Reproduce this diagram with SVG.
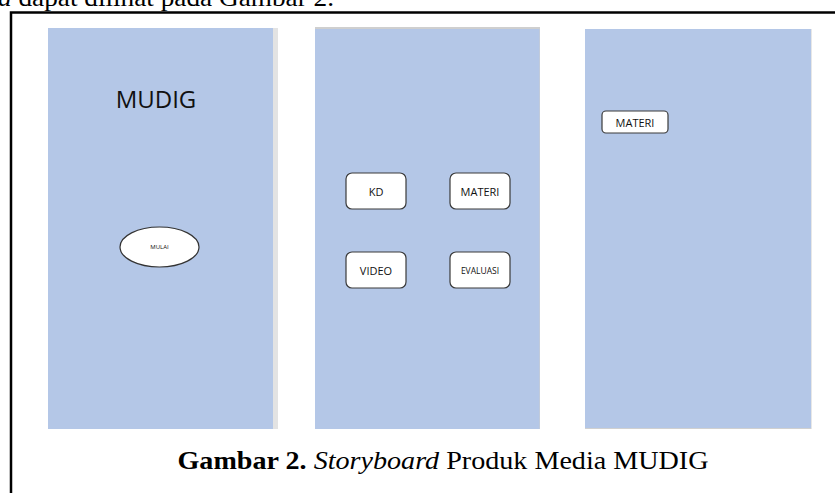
<svg xmlns="http://www.w3.org/2000/svg" width="835" height="493" viewBox="0 0 835 493">
<style>
.panel{fill:#b4c7e7}
.btn{fill:#ffffff;stroke:#3a3a3a;stroke-width:1.2}
.lbl{font-family:"Open Sans","Liberation Sans",sans-serif;fill:#111;text-anchor:middle}
.serif{font-family:"Liberation Serif","Times New Roman",serif;fill:#000}
</style>
<rect width="835" height="493" fill="#ffffff"/>
<text class="serif" x="-2" y="6" font-size="25" textLength="336" lengthAdjust="spacingAndGlyphs"><tspan font-style="italic">a</tspan> dapat dilihat pada Gambar 2.</text>
<path d="M11 493 V12.5 H835" fill="none" stroke="#000" stroke-width="2.5"/>
<g id="screen1">
<rect x="273" y="28" width="5" height="401" fill="#e3e3e3"/>
<rect class="panel" x="48" y="28" width="225" height="401"/>
<text class="lbl" x="156" y="108" font-size="24">MUDIG</text>
<g id="mulai">
<ellipse cx="159.5" cy="247" rx="39.5" ry="20" fill="#fff" stroke="#333" stroke-width="1.2"/>
<text class="lbl" x="159.5" y="249" font-size="6">MULAI</text>
</g>
</g>
<g id="screen2">
<rect x="315" y="27" width="225" height="402" fill="#cfcfcf"/>
<rect class="panel" x="315" y="29" width="224.5" height="400"/>
<g id="kd"><rect class="btn" x="346" y="173" width="60" height="36" rx="6"/><text class="lbl" x="376" y="196" font-size="11">KD</text></g>
<g id="materi"><rect class="btn" x="450" y="173" width="60" height="36" rx="6"/><text class="lbl" x="480" y="196" font-size="11">MATERI</text></g>
<g id="video"><rect class="btn" x="346" y="252" width="60" height="36" rx="6"/><text class="lbl" x="376" y="275" font-size="11">VIDEO</text></g>
<g id="evaluasi"><rect class="btn" x="450" y="252" width="60" height="36" rx="6"/><text class="lbl" x="480" y="274" font-size="8.5">EVALUASI</text></g>
</g>
<g id="screen3">
<rect x="585" y="29" width="226.5" height="400" fill="#d0d0d0"/>
<rect class="panel" x="585" y="29" width="226" height="399"/>
<g id="materi3"><rect class="btn" x="602" y="111" width="66" height="22" rx="4"/><text class="lbl" x="635" y="127" font-size="11">MATERI</text></g>
</g>
<g id="connectors"></g>
<text class="serif" x="443" y="469" font-size="26" text-anchor="middle" textLength="531" lengthAdjust="spacingAndGlyphs"><tspan font-weight="bold">Gambar 2.</tspan> <tspan font-style="italic">Storyboard</tspan> Produk Media MUDIG</text>
</svg>
